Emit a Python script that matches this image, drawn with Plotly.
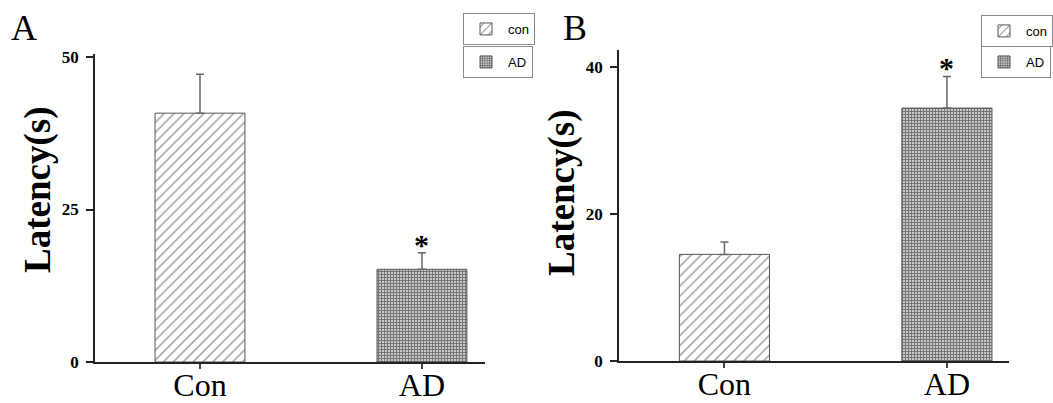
import plotly.graph_objects as go

# ---- data ----
categories = ["Con", "AD"]
legend_names = ["con", "AD"]
latency_A = [40.8, 15.2]
error_A = [6.4, 2.7]
latency_B = [14.5, 34.4]
error_B = [1.7, 4.3]
signif_A = ["", "*"]
signif_B = ["", "*"]
ticks_A = [0, 25, 50]
ticks_B = [0, 20, 40]

W, H = 1053, 403
serif = "Liberation Serif, Times New Roman, serif"
sans = "Liberation Sans, Arial, sans-serif"

patterns = [
    dict(shape="/", size=7, solidity=0.2, fgcolor="#333333", bgcolor="white", fillmode="overlay"),
    dict(shape="+", size=3, solidity=0.5, fgcolor="#111111", bgcolor="#c8c8c8", fillmode="overlay"),
]

fig = go.Figure()
legends_per_panel = [["legend", "legend2"], ["legend3", "legend4"]]
for p, (vals, errs, xa, ya) in enumerate([(latency_A, error_A, "x", "y"), (latency_B, error_B, "x2", "y2")]):
    for i, cat in enumerate(categories):
        fig.add_trace(go.Bar(
            x=[cat], y=[vals[i]], name=legend_names[i],
            xaxis=xa, yaxis=ya, width=0.405,
            marker=dict(color="white", pattern=patterns[i],
                        line=dict(color="#555555", width=1)),
            error_y=dict(type="data", array=[errs[i]], arrayminus=[0], symmetric=False,
                         color="#666666", thickness=1.5, width=4),
            legend=legends_per_panel[p][i], showlegend=True,
        ))

# significance stars
for vals, errs, sig, xa, ya, shift in [(latency_A, error_A, signif_A, "x", "y", 0),
                                       (latency_B, error_B, signif_B, "x2", "y2", 0)]:
    for i, cat in enumerate(categories):
        if sig[i]:
            fig.add_annotation(x=cat, y=vals[i] + errs[i], xref=xa, yref=ya, text=f"<b>{sig[i]}</b>",
                               showarrow=False, yanchor="bottom", yshift=shift - 10,
                               font=dict(family=serif, size=30, color="black"))

axis_common = dict(showline=True, linecolor="#222222", linewidth=1.5, ticks="outside",
                   showgrid=False, zeroline=False, automargin=False)

fig.update_layout(
    width=W, height=H, margin=dict(l=0, r=0, t=0, b=0, autoexpand=False),
    paper_bgcolor="white", plot_bgcolor="white", barmode="overlay",
    xaxis=dict(domain=[95 / W, 485 / W], anchor="y", range=[-0.473, 1.284],
               tickfont=dict(family=serif, size=32, color="black"),
               ticklen=5, tickwidth=1.5, tickcolor="#444444", ticklabelstandoff=-11, **axis_common),
    yaxis=dict(domain=[(H - 362) / H, (H - 54) / H], anchor="x", range=[0, 50.5],
               tickvals=ticks_A, tickfont=dict(family=serif, size=17, color="black", weight="bold"),
               ticklen=7, tickwidth=1.5, tickcolor="#222222", ticklabelstandoff=4, **axis_common),
    xaxis2=dict(domain=[619 / W, 1009 / W], anchor="y2", range=[-0.474, 1.279],
                tickfont=dict(family=serif, size=32, color="black"),
                ticklen=5, tickwidth=1.5, tickcolor="#444444", ticklabelstandoff=-11, **axis_common),
    yaxis2=dict(domain=[(H - 361) / H, (H - 50) / H], anchor="x2", range=[0, 42.3],
                tickvals=ticks_B, tickfont=dict(family=serif, size=17, color="black", weight="bold"),
                ticklen=7, tickwidth=1.5, tickcolor="#222222", ticklabelstandoff=4, **axis_common),
)

leg_style = dict(bgcolor="white", bordercolor="#888888", borderwidth=1,
                 font=dict(family=sans, size=13, color="black"),
                 xanchor="left", yanchor="top", itemwidth=34, tracegroupgap=0)
fig.update_layout(
    legend=dict(x=463 / W, y=1 - 13 / H, **leg_style),
    legend2=dict(x=463 / W, y=1 - 46 / H, **leg_style),
    legend3=dict(x=981 / W, y=1 - 15 / H, **leg_style),
    legend4=dict(x=981 / W, y=1 - 46 / H, **leg_style),
)

# panel labels and y-axis titles
for txt, x in [("A", 24), ("B", 575)]:
    fig.add_annotation(x=x / W, y=1 - 28 / H, xref="paper", yref="paper", text=txt, showarrow=False,
                       xanchor="center", yanchor="middle", font=dict(family=serif, size=36, color="black"))
for x, y in [(38, 190), (562, 193)]:
    fig.add_annotation(x=x / W, y=1 - y / H, xref="paper", yref="paper", text="<b>Latency(s)</b>",
                       showarrow=False, textangle=-90, xanchor="center", yanchor="middle",
                       font=dict(family=serif, size=37, color="black"))

fig.write_html("out.html")
